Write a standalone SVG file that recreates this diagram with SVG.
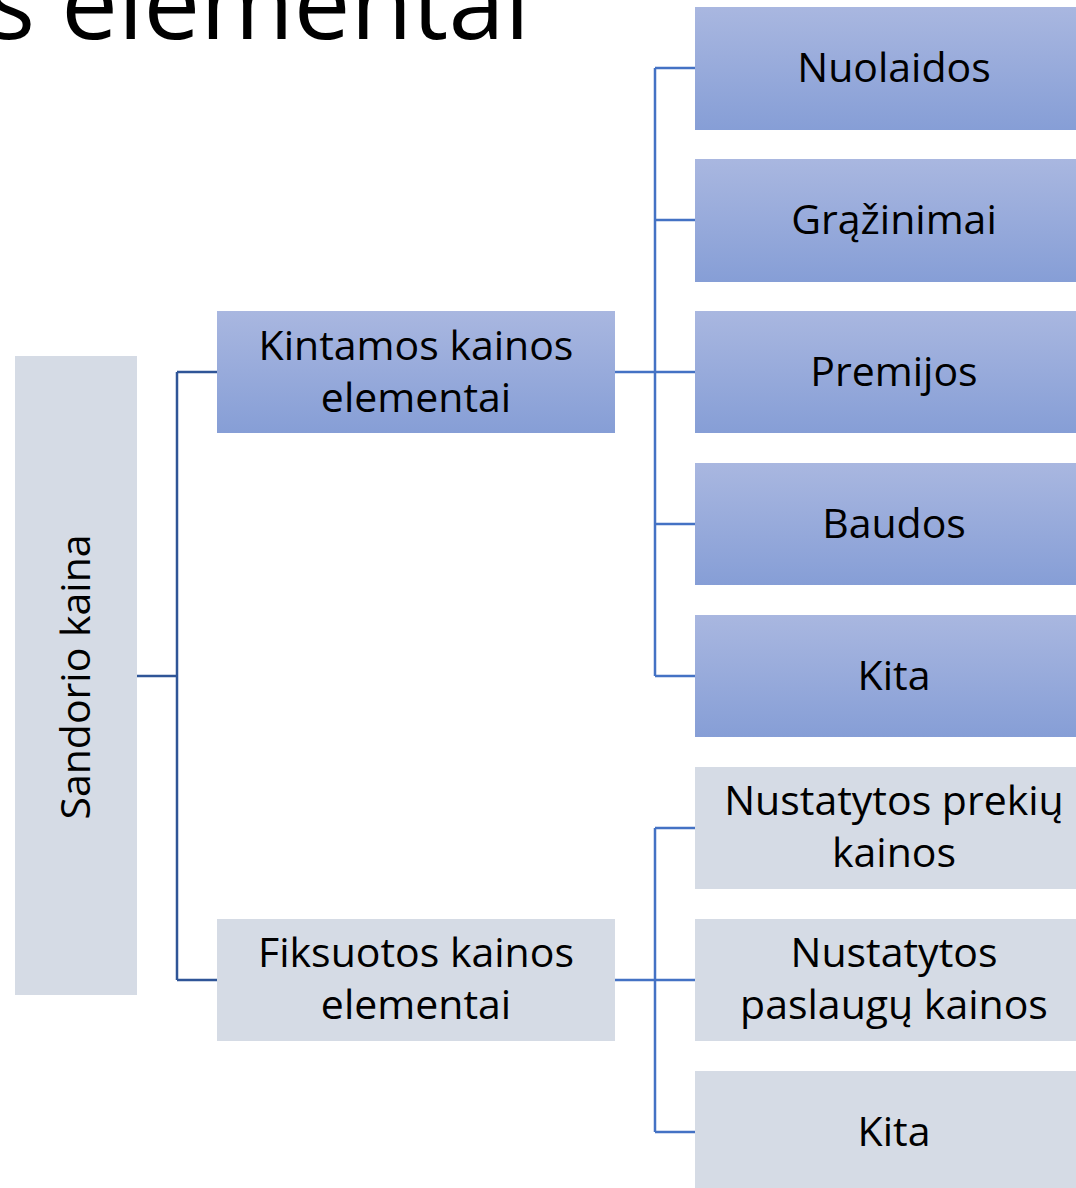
<svg xmlns="http://www.w3.org/2000/svg" width="1076" height="1188" viewBox="0 0 1076 1188">
<defs>
<linearGradient id="blue" x1="0" y1="0" x2="0" y2="1">
<stop offset="0" stop-color="#A9B7E0"/>
<stop offset="1" stop-color="#869ED6"/>
</linearGradient>
<style>
.t{font-family:"Open Sans","Noto Sans",sans-serif;font-size:41px;fill:#000;text-anchor:middle}
.b{fill:url(#blue)}
.g{fill:#D5DBE5}
.c1{fill:none;stroke:#2F5597;stroke-width:2.5}
.c2{fill:none;stroke:#4472C4;stroke-width:2.5}
</style>
</defs>
<rect width="1076" height="1188" fill="#fff"/>
<text x="530" y="39" style="font-family:'Open Sans','Noto Sans',sans-serif;font-size:101px;text-anchor:end">s elementai</text>
<g id="connectors">
<path class="c1" d="M137 676H177M177 372V980M177 372H217M177 980H217"/>
<path class="c2" d="M615 372H655M655 68V676M655 68H695M655 220H695M655 372H695M655 524H695M655 676H695"/>
<path class="c2" d="M615 980H655M655 828V1132M655 828H695M655 980H695M655 1132H695"/>
</g>
<g id="sandorio"><rect class="g" x="15" y="356" width="122" height="639"/><text class="t" transform="translate(90 677) rotate(-90)">Sandorio kaina</text></g>
<g id="kintamos"><rect class="b" x="217" y="311" width="398" height="122"/><text class="t" x="416" y="360">Kintamos kainos</text><text class="t" x="416" y="412">elementai</text></g>
<g id="fiksuotos"><rect class="g" x="217" y="919" width="398" height="122"/><text class="t" x="416" y="967">Fiksuotos kainos</text><text class="t" x="416" y="1019">elementai</text></g>
<g id="nuolaidos"><rect class="b" x="695" y="7" width="400" height="123"/><text class="t" x="894" y="82">Nuolaidos</text></g>
<g id="grazinimai"><rect class="b" x="695" y="159" width="400" height="123"/><text class="t" x="894" y="234">Grąžinimai</text></g>
<g id="premijos"><rect class="b" x="695" y="311" width="400" height="122"/><text class="t" x="894" y="386">Premijos</text></g>
<g id="baudos"><rect class="b" x="695" y="463" width="400" height="122"/><text class="t" x="894" y="538">Baudos</text></g>
<g id="kita1"><rect class="b" x="695" y="615" width="400" height="122"/><text class="t" x="894" y="690">Kita</text></g>
<g id="prekiu"><rect class="g" x="695" y="767" width="400" height="122"/><text class="t" x="894" y="815">Nustatytos prekių</text><text class="t" x="894" y="867">kainos</text></g>
<g id="paslaugu"><rect class="g" x="695" y="919" width="400" height="122"/><text class="t" x="894" y="967">Nustatytos</text><text class="t" x="894" y="1019">paslaugų kainos</text></g>
<g id="kita2"><rect class="g" x="695" y="1071" width="400" height="130"/><text class="t" x="894" y="1146">Kita</text></g>
</svg>
